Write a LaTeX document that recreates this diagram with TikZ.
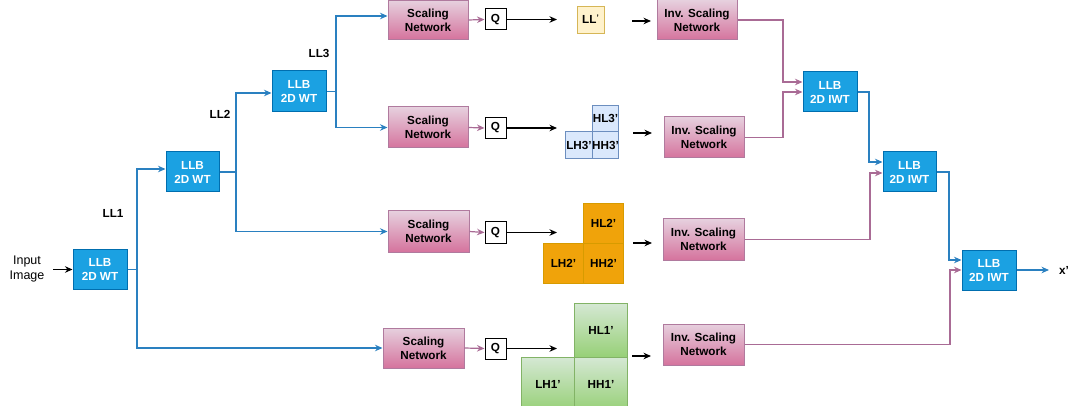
\documentclass[tikz,border=0pt]{standalone}
\usepackage{fontspec}
\setmainfont{Liberation Sans}
\usetikzlibrary{arrows.meta,calc}
\definecolor{wtfill}{HTML}{1BA1E2}
\definecolor{wtdraw}{HTML}{006EAF}
\definecolor{blline}{HTML}{2A80C0}
\definecolor{pkline}{HTML}{A96B95}
\definecolor{pktop}{HTML}{E6D0DE}
\definecolor{pkbot}{HTML}{D5739D}
\definecolor{pkdraw}{HTML}{B07A9E}
\definecolor{yfill}{HTML}{FFF2CC}
\definecolor{ydraw}{HTML}{D6B656}
\definecolor{bfill}{HTML}{DAE8FC}
\definecolor{bdraw}{HTML}{6C8EBF}
\definecolor{ofill}{HTML}{F0A30A}
\definecolor{odraw}{HTML}{D79B00}
\definecolor{gtop}{HTML}{D5E8D4}
\definecolor{gbot}{HTML}{97D077}
\definecolor{gdraw}{HTML}{82B366}
\begin{document}
\begin{tikzpicture}[x=1pt,y=-1pt,
  every node/.style={font=\fontsize{11.7}{14}\selectfont\bfseries, inner sep=0pt, align=center},
  wt/.style={rectangle, draw=wtdraw, fill=wtfill, text=white, line width=1pt, minimum width=54pt, minimum height=40pt},
  sn/.style={rectangle, draw=pkdraw, top color=pktop, bottom color=pkbot, line width=1pt, minimum width=80pt, minimum height=40pt},
  qbox/.style={rectangle, draw=black, fill=white, line width=1pt, minimum width=21pt, minimum height=21pt},
  ycell/.style={rectangle, draw=ydraw, fill=yfill, line width=0.8pt, minimum width=27pt, minimum height=27pt},
  bcell/.style={rectangle, draw=bdraw, fill=bfill, line width=0.8pt, minimum width=26.5pt, minimum height=26.5pt},
  ocell/.style={rectangle, draw=odraw, fill=ofill, line width=0.8pt, minimum width=40pt, minimum height=40pt},
  gcell/.style={rectangle, draw=gdraw, top color=gtop, bottom color=gbot, line width=0.8pt, minimum width=53pt, minimum height=54pt},
  lbl/.style={text=black},
  arr/.style={-{Stealth[length=7.5pt,width=6.5pt]}, line width=1.2pt},
  bl/.style={arr, draw=blline},
  pk/.style={arr, draw=pkline},
  bk/.style={arr, draw=black}
]
\useasboundingbox (0,0) rectangle (1076,406);

% left side
\node[lbl, font=\fontsize{12.5}{15}\selectfont] (in) at (27,269) {Input\\Image};
\node[wt] (wt1) at (100,269.5) {LLB\\2D WT};
\node[wt, minimum width=53pt] (wt2) at (192.5,172) {LLB\\2D WT};
\node[wt, minimum height=41pt] (wt3) at (299,91.5) {LLB\\2D WT};

\node[lbl] (ll1) at (113,213) {LL1};
\node[lbl] (ll2) at (220,114) {LL2};
\node[lbl] (ll3) at (319,53) {LL3};

% scaling networks
\node[sn, minimum height=39pt] (sn1) at (428,20) {Scaling\\Network};
\node[sn, minimum height=41pt] (sn2) at (428,127.5) {Scaling\\Network};
\node[sn, minimum width=81pt, minimum height=41pt] (sn3) at (428.5,231.5) {Scaling\\Network};
\node[sn, minimum width=81pt] (sn4) at (423.5,348) {Scaling\\Network};

\node[qbox] (q1) at (495.5,19.5) {Q};
\node[qbox] (q2) at (495.5,128) {Q};
\node[qbox] (q3) at (495.5,232.5) {Q};
\node[qbox] (q4) at (495.5,348.5) {Q};

% subbands
\node[ycell] (ll) at (590.5,19.5) {LL\raisebox{3pt}{\fontsize{8}{8}\selectfont'}};
\node[bcell] (hl3) at (605.5,118.5) {HL3'};
\node[bcell] (lh3) at (579,145) {LH3'};
\node[bcell] (hh3) at (605.5,145) {HH3'};
\node[ocell] (hl2) at (603.5,223) {HL2'};
\node[ocell] (lh2) at (563.5,263) {LH2'};
\node[ocell] (hh2) at (603.5,263) {HH2'};
\node[gcell] (hl1) at (601,330) {HL1'};
\node[gcell] (lh1) at (548,384) {LH1'};
\node[gcell] (hh1) at (601,384) {HH1'};

% inverse scaling networks
\node[sn] (isn1) at (697,20) {Inv. Scaling\\Network};
\node[sn, minimum height=41pt] (isn2) at (704,137.5) {Inv. Scaling\\Network};
\node[sn, minimum width=81pt, minimum height=41pt] (isn3) at (703.5,239.5) {Inv. Scaling\\Network};
\node[sn, minimum width=81pt, minimum height=41pt] (isn4) at (703.5,344.5) {Inv. Scaling\\Network};

\node[wt] (iwt1) at (830,92) {LLB\\2D IWT};
\node[wt, minimum width=53pt] (iwt2) at (909.5,172) {LLB\\2D IWT};
\node[wt] (iwt3) at (989,270) {LLB\\2D IWT};
\node[lbl] (xo) at (1064,270) {x'};

% junction / free-end coordinates
\coordinate (ins) at (53,269.5);
\coordinate (j1) at (137,269.5);
\coordinate (j2) at (236,172);
\coordinate (j3) at (336,91.5);
\coordinate (e1) at (557,19.5);
\coordinate (e2) at (557,128);
\coordinate (e3) at (557,232.5);
\coordinate (e4) at (557,348.5);
\coordinate (s1) at (632,21);
\coordinate (t1) at (651,21);
\coordinate (s2) at (633,133);
\coordinate (t2) at (652,133);
\coordinate (s3) at (633,243);
\coordinate (t3) at (652,243);
\coordinate (s4) at (632,356);
\coordinate (t4) at (651,356);
\coordinate (k1) at (783,20);
\coordinate (k2) at (783,137.5);
\coordinate (k3) at (869,92);
\coordinate (k4) at (870,239.5);
\coordinate (k5) at (949,172);
\coordinate (k6) at (950,344.5);
\coordinate (xa) at (1049,270);

% forward transform connectors
\draw[bk] (ins) -- (wt1.west);
\draw[bl] (wt1.east) -- (j1) |- ([yshift=3pt]wt2.west);
\draw[bl] (j1) |- (sn4.west);
\draw[bl] (wt2.east) -- (j2) |- ([yshift=-1.5pt]wt3.west);
\draw[bl] (j2) |- (sn3.west);
\draw[bl] (wt3.east) -- (j3) |- ([yshift=4pt]sn1.west);
\draw[bl] (j3) |- (sn2.west);

% scaling -> Q -> subbands
\foreach \i in {1,2,3,4}{
  \draw[pk] (sn\i.east) -- (q\i.west);
  \draw[bk] (q\i.east) -- (e\i);
  \draw[bk] (s\i) -- (t\i);
}

% inverse side
\draw[pk] (isn1.east) -- (k1) |- ([yshift=10pt]iwt1.west);
\draw[pk] (isn2.east) -- (k2) |- (iwt1.west);
\draw[bl] (iwt1.east) -- (k3) |- ([yshift=10pt]iwt2.west);
\draw[pk] (isn3.east) -- (k4) |- ([yshift=-1pt]iwt2.west);
\draw[bl] (iwt2.east) -- (k5) |- ([yshift=10pt]iwt3.west);
\draw[pk] (isn4.east) -- (k6) |- (iwt3.west);
\draw[bl] (iwt3.east) -- (xa);
\end{tikzpicture}
\end{document}
